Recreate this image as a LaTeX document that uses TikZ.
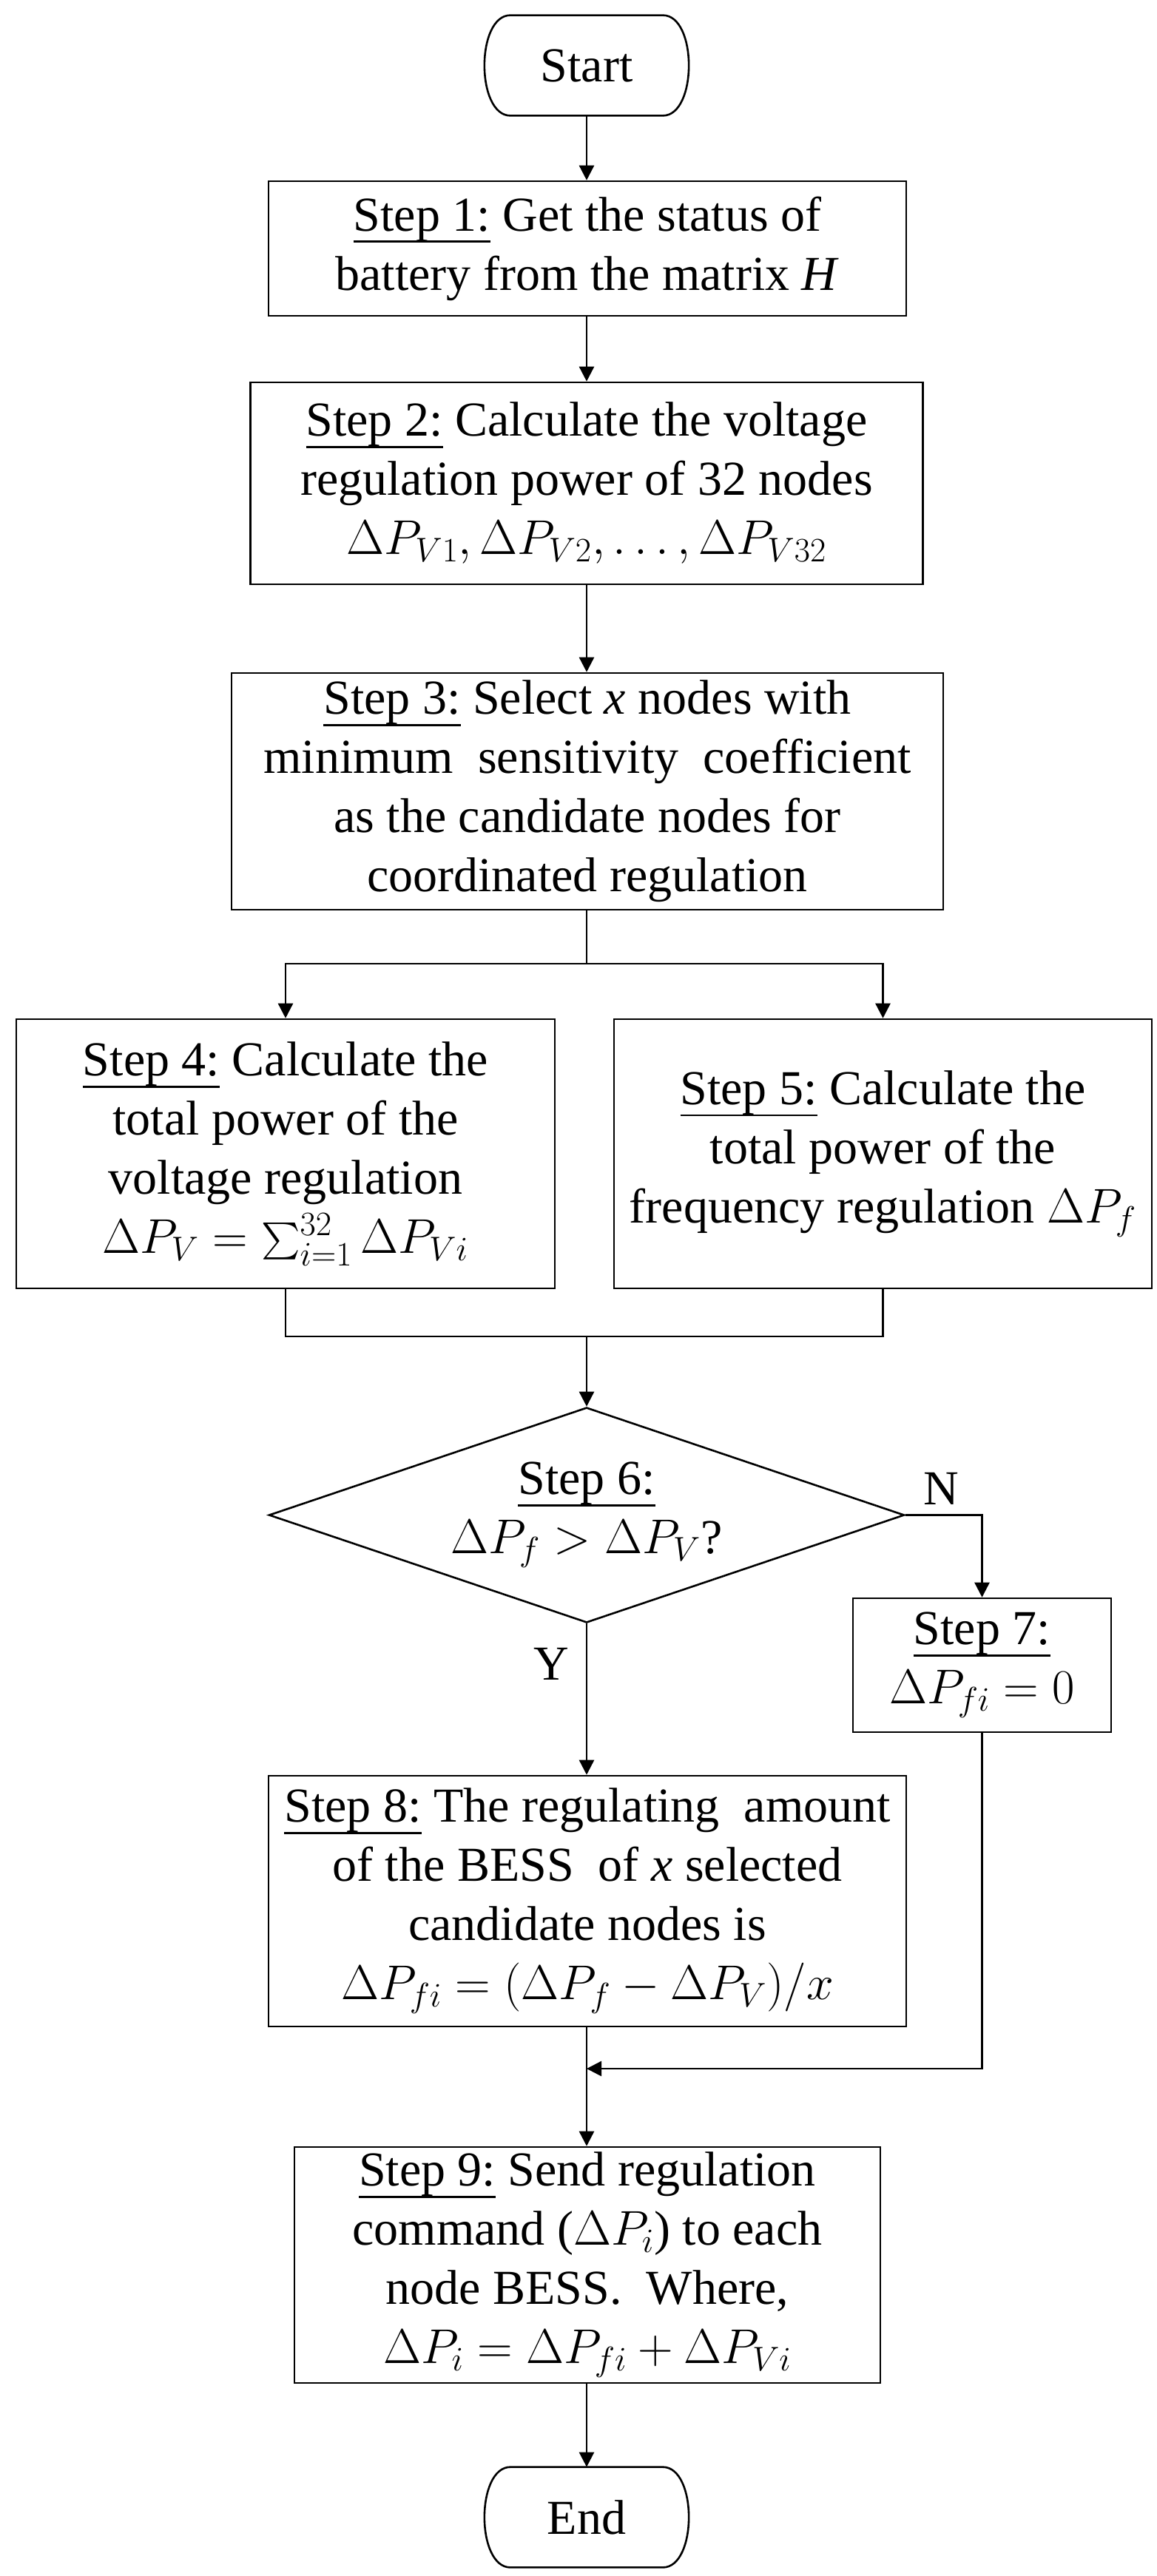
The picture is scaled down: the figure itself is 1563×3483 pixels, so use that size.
\RequirePackage{fix-cm}
\documentclass[tikz,border=0pt]{standalone}
\usepackage{exscale}
\usepackage{fontspec}
\setmainfont{Liberation Serif}
\usetikzlibrary{arrows.meta,shapes.geometric,calc}
\newcommand{\stepul}[1]{\leavevmode\setbox0=\hbox{#1}\rlap{\rule[-8pt]{\wd0}{1.4pt}}\box0\relax}
\begin{document}
\begin{tikzpicture}[x=0.5pt,y=-0.5pt,
  every node/.style={font=\fontsize{33pt}{40pt}\selectfont},
  line/.style={line width=1.3pt},
  arr/.style={line width=1.3pt,-{Triangle[length=10pt,width=10pt]}},
  box/.style={draw,line width=1.3pt,align=center,inner sep=0pt},
  term/.style={align=center,inner sep=0pt,minimum width=137.5pt,minimum height=67.5pt},
  lbl/.style={font=\fontsize{33pt}{40pt}\selectfont}]
\useasboundingbox (0,0) rectangle (1563,3483);

% Terminals
\node[term] (start) at (793,88.5) {Start};
\node[term] (end) at (793,3403.5) {End};
\foreach \t in {start,end}{
  \draw[line] ($(\t.north west)+(35,0)$) -- ($(\t.north east)+(-35,0)$)
    .. controls ($(\t.north east)+(12,0)$) and ($(\t.south east)+(12,0)$) .. ($(\t.south east)+(-35,0)$)
    -- ($(\t.south west)+(35,0)$)
    .. controls ($(\t.south west)+(-12,0)$) and ($(\t.north west)+(-12,0)$) .. cycle;
}

% Process boxes
\node[box,minimum width=431pt,minimum height=91pt] (s1) at (794,336)
  {\stepul{Step 1:} Get the status of\\ battery from the matrix \textit{H}};
\node[box,minimum width=454.5pt,minimum height=136.5pt] (s2) at (793,653.5)
  {\stepul{Step 2:} Calculate the voltage\\ regulation power of 32 nodes\\ $\Delta P_{V1},\Delta P_{V2},\ldots,\Delta P_{V32}$};
\node[box,minimum width=481pt,minimum height=160pt] (s3) at (794,1070)
  {\stepul{Step 3:} Select \textit{x} nodes with\\ minimum\ \ sensitivity\ \ coefficient\\ as the candidate nodes for\\ coordinated regulation};
\node[box,minimum width=364pt,minimum height=182pt] (s4) at (386,1560)
  {\stepul{Step 4:} Calculate the\\ total power of the\\ voltage regulation\\ $\Delta P_V=\sum_{i=1}^{32}\Delta P_{Vi}$};
\node[box,minimum width=363.5pt,minimum height=182pt] (s5) at (1193.5,1560)
  {\stepul{Step 5:} Calculate the\\ total power of the\\ frequency regulation $\Delta P_f$};
\node[diamond,draw,line width=1.3pt,align=center,inner sep=0pt,aspect=2.95,
      minimum width=429.5pt,minimum height=145.5pt] (dec) at (793,2048.5)
  {\stepul{Step 6:}\\ $\Delta P_f>\Delta P_V$?};
\node[box,minimum width=174.5pt,minimum height=90.5pt] (s7) at (1327.5,2251.5)
  {\stepul{Step 7:}\\ $\Delta P_{fi}=0$};
\node[box,minimum width=431pt,minimum height=169.5pt] (s8) at (794,2570.5)
  {\stepul{Step 8:} The regulating\ \ amount\\ of the BESS\ \ of \textit{x} selected\\ candidate nodes is\\ $\Delta P_{fi}=(\Delta P_f-\Delta P_V)/x$};
\node[box,minimum width=396pt,minimum height=159.5pt] (s9) at (794,3062.5)
  {\stepul{Step 9:} Send regulation\\ command ($\Delta P_i$) to each\\ node BESS.\ \ Where,\\ $\Delta P_i=\Delta P_{fi}+\Delta P_{Vi}$};

% Helper coordinates
\coordinate (split) at (793,1303);
\coordinate (merge) at (793,1807);
\coordinate (join) at (793,2797);

% Connectors
\draw[arr] (start) -- (start |- s1.north);
\draw[arr] (s1.south -| start) -- (start |- s2.north);
\draw[arr] (s2.south -| start) -- (start |- s3.north);
\draw[line] (s3.south -| split) -- (split);
\draw[arr] (split) -| (s4.north);
\draw[arr] (split) -| (s5.north);
\draw[line] (s4.south) |- (merge);
\draw[line] (s5.south) |- (merge);
\draw[arr] (merge) -- (dec.north);
\draw[arr] (dec.east) -| (s7.north);
\draw[arr] (dec.south) -- (dec.south |- s8.north);
\draw[arr] (s7.south) |- (join);
\draw[arr] (s8.south -| join) -- (join |- s9.north);
\draw[arr] (s9.south -| join) -- (end.north);

% Labels
\node[lbl] (nlab) at (1272,2013) {N};
\node[lbl] (ylab) at (745,2250) {Y};
\end{tikzpicture}
\end{document}
